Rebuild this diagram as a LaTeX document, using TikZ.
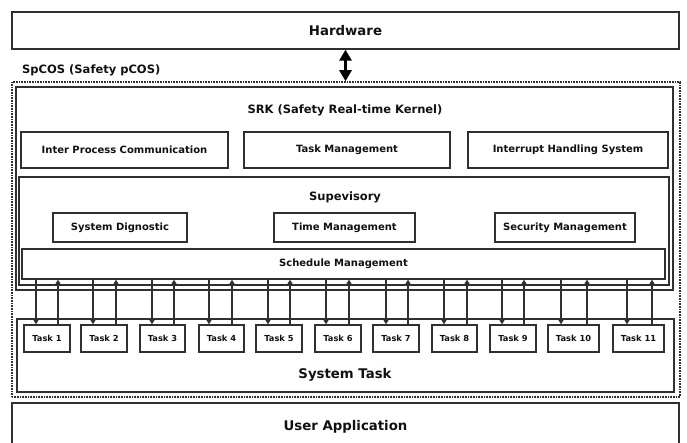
\documentclass[tikz,border=0pt]{standalone}
\usepackage{fontspec}
\setmainfont{DejaVu Sans}
\usetikzlibrary{arrows.meta}
\definecolor{ln}{HTML}{303030}
\definecolor{tx}{HTML}{111111}
\begin{document}
\begin{tikzpicture}[x=1pt,y=-1pt,
  box/.style={draw=ln, line width=1.3pt, inner sep=0pt, text=tx},
  bigf/.style={font=\fontsize{13.3}{15}\selectfont\bfseries, text=tx},
  midf/.style={font=\fontsize{11.5}{13}\selectfont\bfseries, text=tx},
  lblf/.style={font=\fontsize{10}{12}\selectfont\bfseries, text=tx},
  taskf/.style={font=\fontsize{8.3}{10}\selectfont\bfseries, text=tx},
  dotbox/.style={draw=ln, line width=1.6pt, dash pattern=on 0.8pt off 0.8pt},
  arr/.style={draw=ln, line width=1.2pt, -{Triangle[width=7pt,length=6pt]}},
  bigarr/.style={draw=black, line width=3pt, {Triangle[width=12pt,length=11pt]}-{Triangle[width=12pt,length=11pt]}}
]
\useasboundingbox (0,0) rectangle (687,443);
\clip (0,0) rectangle (687,443);

% Hardware
\node[box, bigf, minimum width=667pt, minimum height=37pt] (hw) at (345.5,30.5) {Hardware};

% SpCOS dotted container
\node[dotbox, minimum width=668pt, minimum height=315pt] (spcos) at (346,239.5) {};
\node[midf, anchor=west, inner sep=0pt] (spl) at (22,70) {SpCOS (Safety pCOS)};
\draw[bigarr] (hw.south) -- (hw.south |- spcos.north);

% SRK
\node[box, minimum width=657pt, minimum height=203pt] (srk) at (344.5,188.5) {};
\node[midf] (srkt) at (345,110) {SRK (Safety Real-time Kernel)};
\node[box, lblf, minimum width=207pt, minimum height=36pt] (ipc) at (124.5,150) {Inter Process Communication};
\node[box, lblf, minimum width=206pt, minimum height=36pt] (tmg) at (347,150) {Task Management};
\node[box, lblf, minimum width=200pt, minimum height=36pt] (ihs) at (568,150) {Interrupt Handling System};

% Supervisory
\node[box, minimum width=650pt, minimum height=108pt] (sup) at (344,231) {};
\node[midf] (supt) at (345,197) {Supevisory};
\node[box, lblf, minimum width=134pt, minimum height=29pt] (sd) at (120,227.5) {System Dignostic};
\node[box, lblf, minimum width=141pt, minimum height=29pt] (tim) at (344.5,227.5) {Time Management};
\node[box, lblf, minimum width=140pt, minimum height=29pt] (sec) at (565,227.5) {Security Management};
\node[box, lblf, minimum width=643pt, minimum height=30pt] (sched) at (343.5,264) {Schedule Management};

% System Task
\node[box, minimum width=657pt, minimum height=73pt] (st) at (345.5,355.5) {};
\node[bigf] (stt) at (345,375) {System Task};

\foreach \i/\cx/\w/\d/\u in {1/47/46/36/58, 2/104/46/93/116, 3/162.5/45/152/174,
  4/221.5/45/209/232, 5/279/46/268/290, 6/338/46/326/349, 7/396/46/386/408,
  8/454.5/45/444/467, 9/513/46/502/524, 10/573.5/51/561/587, 11/638.5/51/627/652} {
  \node[box, taskf, minimum width=\w pt, minimum height=27pt] (t\i) at (\cx,338.5) {Task \i};
  \coordinate (dx\i) at (\d,0);
  \coordinate (ux\i) at (\u,0);
  \draw[arr] (sched.south -| dx\i) -- (t\i.north -| dx\i);
  \draw[arr] (t\i.north -| ux\i) -- (sched.south -| ux\i);
}

% User Application
\node[box, bigf, minimum width=667pt, minimum height=48pt] (ua) at (345.5,427) {User Application};
\end{tikzpicture}
\end{document}
